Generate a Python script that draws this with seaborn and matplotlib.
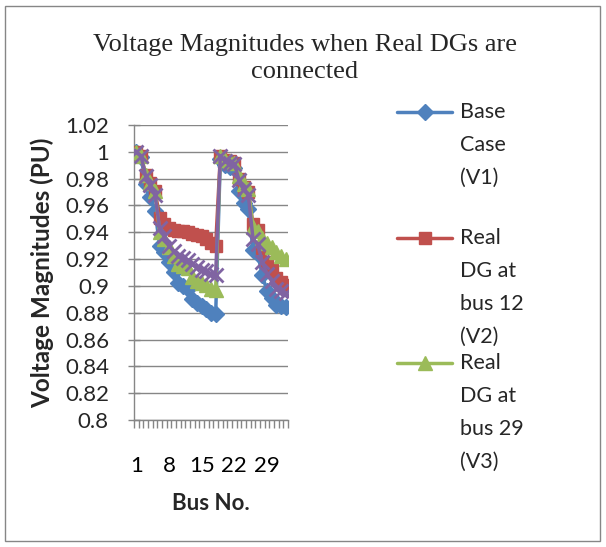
import matplotlib
matplotlib.use("Agg")
import matplotlib.pyplot as plt
import seaborn as sns
import pandas as pd
from matplotlib.lines import Line2D
from matplotlib.patches import Rectangle

# ---------------- data ----------------
bus = list(range(1, 34))
v1_base = [1.000, 0.996, 0.976, 0.966, 0.956, 0.930, 0.925, 0.918, 0.910, 0.902, 0.900,
           0.898, 0.890, 0.887, 0.885, 0.883, 0.880, 0.879, 0.995, 0.990, 0.989, 0.988,
           0.971, 0.962, 0.957, 0.927, 0.924, 0.908, 0.896, 0.891, 0.886, 0.885, 0.884]
v2_dg12 = [1.000, 0.997, 0.983, 0.977, 0.971, 0.951, 0.946, 0.943, 0.942, 0.941, 0.941,
           0.940, 0.939, 0.938, 0.937, 0.935, 0.932, 0.930, 0.997, 0.994, 0.993, 0.992,
           0.980, 0.974, 0.970, 0.946, 0.942, 0.928, 0.918, 0.912, 0.906, 0.903, 0.901]
v3_dg29 = [1.000, 0.997, 0.983, 0.977, 0.971, 0.940, 0.935, 0.929, 0.922, 0.916, 0.915,
           0.913, 0.907, 0.904, 0.902, 0.901, 0.898, 0.897, 0.997, 0.994, 0.993, 0.992,
           0.982, 0.976, 0.972, 0.944, 0.941, 0.936, 0.932, 0.929, 0.925, 0.922, 0.920]
v4_dg = [1.000, 0.997, 0.982, 0.975, 0.968, 0.943, 0.937, 0.930, 0.926, 0.922, 0.921,
         0.919, 0.916, 0.914, 0.912, 0.911, 0.909, 0.908, 0.997, 0.993, 0.992, 0.991,
         0.979, 0.972, 0.968, 0.935, 0.931, 0.918, 0.909, 0.904, 0.898, 0.896, 0.895]
series_names = ["Base Case (V1)", "Real DG at bus 12 (V2)", "Real DG at bus 29 (V3)", "V4"]
legend_labels = [["Base", "Case", "(V1)"],
                 ["Real", "DG at", "bus 12", "(V2)"],
                 ["Real", "DG at", "bus 29", "(V3)"]]
tick_buses = [1, 8, 15, 22, 29]
y_ticks = [0.80, 0.82, 0.84, 0.86, 0.88, 0.90, 0.92, 0.94, 0.96, 0.98, 1.00, 1.02]
title = "Voltage Magnitudes when Real DGs are\nconnected"
x_title = "Bus No."
y_title = "Voltage Magnitudes (PU)"

# ---------------- style ----------------
sns.set_theme(style="white")
plt.rcParams["font.family"] = ["Lato", "DejaVu Sans"]

colors = ["#4F81BD", "#C0504D", "#9BBB59", "#8064A2"]
markers = ["D", "s", "^", "x"]
msizes = [8, 9, 10, 10]
grid_c = "#868686"

W, H = 606, 547
fig = plt.figure(figsize=(W / 100, H / 100), dpi=100)
L, R, T, B = 134, 288, 125, 420
ax = fig.add_axes([L / W, 1 - B / H, (R - L) / W, (B - T) / H])

data = pd.DataFrame({"bus": bus * 4,
                     "v": v1_base + v2_dg12 + v3_dg29 + v4_dg,
                     "series": sum([[n] * len(bus) for n in series_names], [])})

for i, name in enumerate(series_names):
    sub = data[data["series"] == name]
    sns.lineplot(data=sub, x="bus", y="v", ax=ax, color=colors[i], lw=2.5,
                 marker=markers[i], markersize=msizes[i], markeredgecolor=colors[i],
                 markeredgewidth=2 if markers[i] == "x" else 1, legend=False, zorder=3 + i)

ax.set_xlim(0.5, 33.5)
ax.set_ylim(0.8, 1.02)
ax.set_yticks(y_ticks)
ax.set_yticklabels([f"{round(t, 2):g}" for t in y_ticks], fontsize=16)
ax.set_xticks(tick_buses)
ax.set_xticklabels([str(b) for b in tick_buses], fontsize=16)
ax.set_xticks([b - 0.5 for b in bus] + [33.5], minor=True)
ax.tick_params(axis="x", which="major", length=0, pad=26, colors="black")
ax.tick_params(axis="x", which="minor", length=6, width=1, color=grid_c, direction="out", bottom=True)
ax.tick_params(axis="y", which="major", length=8, width=1, color=grid_c, direction="inout", left=True, pad=14)
ax.grid(axis="y", color=grid_c, lw=1)
ax.grid(axis="x", visible=False)
for s in ["top", "right"]:
    ax.spines[s].set_visible(False)
for s in ["left", "bottom"]:
    ax.spines[s].set_color(grid_c)
    ax.spines[s].set_linewidth(1)
ax.set_xlabel(x_title, fontsize=16, fontweight="bold", labelpad=12)
ax.set_ylabel(y_title, fontsize=17.5, fontweight="bold", labelpad=8)

fig.text(305 / W, 1 - 45 / H, title.split("\n")[0], ha="center", va="center",
         fontsize=19, family=["Liberation Serif"])
fig.text(305 / W, 1 - 72 / H, title.split("\n")[1], ha="center", va="center",
         fontsize=19, family=["Liberation Serif"])

# legend (first line of each entry aligned with handle, as in the reference)
leg_y = [112, 238, 363]
for i, lines in enumerate(legend_labels):
    y = 1 - leg_y[i] / H
    fig.add_artist(Line2D([397 / W, 424.5 / W, 452 / W], [y, y, y], transform=fig.transFigure,
                          color=colors[i], lw=2.5, marker=markers[i], markevery=[1],
                          markersize=msizes[i], markeredgecolor=colors[i]))
    for j, txt in enumerate(lines):
        fig.text(460 / W, 1 - (leg_y[i] + 33 * j) / H, txt, ha="left", va="center", fontsize=15.5)

fig.add_artist(Rectangle((5 / W, 6 / H), 595 / W, 535 / H, transform=fig.transFigure,
                         fill=False, edgecolor=grid_c, lw=1))

fig.savefig("out.png", dpi=100)
